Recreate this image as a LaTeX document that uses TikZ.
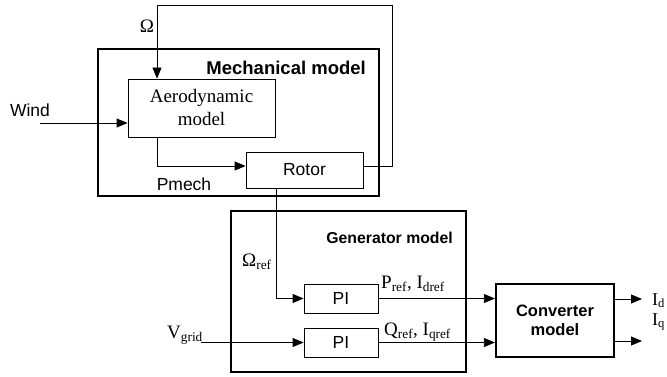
\documentclass[tikz,border=0pt]{standalone}
\usepackage{fontspec}
\setmainfont{Liberation Serif}
\setsansfont{Liberation Sans}
\usetikzlibrary{arrows.meta}
\begin{document}
\begin{tikzpicture}[x=1pt,y=-1pt,
  blk/.style={draw,line width=0.8pt,inner sep=0pt},
  bigblk/.style={draw,line width=2.2pt,inner sep=0pt},
  conn/.style={line width=0.8pt,-{Triangle[length=11pt,width=9pt]}},
  sanslbl/.style={font=\sffamily\fontsize{17.5}{20}\selectfont,inner sep=0pt},
  seriflbl/.style={font=\rmfamily\fontsize{19}{21}\selectfont,inner sep=0pt},
  titlelbl/.style={font=\sffamily\bfseries\fontsize{18.5}{21}\selectfont,inner sep=0pt}]
\useasboundingbox (0,0) rectangle (667,377);
% outer boxes
\node[bigblk,minimum width=281pt,minimum height=147pt] (mech) at (238.5,122.5) {};
\node[bigblk,minimum width=235pt,minimum height=161pt] (gen) at (348.5,291.5) {};
\node[bigblk,minimum width=118pt,minimum height=73pt,align=center,
  font=\sffamily\bfseries\fontsize{16.5}{19}\selectfont] (conv) at (555,320.5) {Converter\\model};
% inner blocks
\node[blk,minimum width=147pt,minimum height=58pt,align=center,
  font=\rmfamily\fontsize{19}{23}\selectfont] (aero) at (201.5,108) {Aerodynamic\\model};
\node[blk,minimum width=117pt,minimum height=36pt,
  font=\sffamily\fontsize{17.5}{20}\selectfont] (rotor) at (304.5,170) {Rotor};
\node[blk,minimum width=74pt,minimum height=29pt,
  font=\sffamily\fontsize{17.5}{20}\selectfont] (pia) at (341,298.5) {PI};
\node[blk,minimum width=74pt,minimum height=29pt,
  font=\sffamily\fontsize{17.5}{20}\selectfont] (pib) at (341,342.5) {PI};
% titles and labels
\node[titlelbl,anchor=east] (mechtitle) at (366,68) {Mechanical model};
\node[titlelbl,anchor=east,font=\sffamily\bfseries\fontsize{15.8}{18}\selectfont] (gentitle) at (453,238) {Generator model};
\node[sanslbl] (pmech) at (184,184) {Pmech};
\node[sanslbl] (wind) at (30,110) {Wind};
\node[seriflbl] (omega) at (147,26) {Ω};
\node[seriflbl,anchor=west] (omegaref) at (242,262) {Ω\textsubscript{ref}};
\node[seriflbl,anchor=west] (vgrid) at (167,335) {V\textsubscript{grid}};
\node[seriflbl,anchor=west] (pref) at (381,284) {P\textsubscript{ref}, I\textsubscript{dref}};
\node[seriflbl,anchor=west] (qref) at (384,332) {Q\textsubscript{ref}, I\textsubscript{qref}};
\node[seriflbl,anchor=base west,font=\rmfamily\fontsize{18}{20}\selectfont] (id) at (652,305) {I\textsubscript{d}};
\node[seriflbl,anchor=base west,font=\rmfamily\fontsize{18}{20}\selectfont] (iq) at (652,325) {I\textsubscript{q}};
% connector end points
\coordinate (windstart) at (40,123);
\coordinate (vgridstart) at (201,342.5);
\coordinate (fbright) at (392,5);
\coordinate (outa) at (642,299);
\coordinate (outb) at (642,341);
% connectors
\draw[conn] (windstart) -- ([yshift=-15pt]aero.west);
\draw[conn] ([yshift=4pt]rotor.east) -| (fbright) -| ([xshift=-44.5pt]aero.north);
\draw[conn] ([xshift=-44.5pt]aero.south) |- ([yshift=4pt]rotor.west);
\draw[conn] ([xshift=-28.5pt]rotor.south) |- (pia.west);
\draw[conn] (vgridstart) -- (pib.west);
\draw[conn] (pia.east) -- (pia.east -| conv.west);
\draw[conn] (pib.east) -- (pib.east -| conv.west);
\draw[conn] ([yshift=21.5pt]conv.east) -- (outa);
\draw[conn] ([yshift=-20.5pt]conv.east) -- (outb);
\end{tikzpicture}
\end{document}
